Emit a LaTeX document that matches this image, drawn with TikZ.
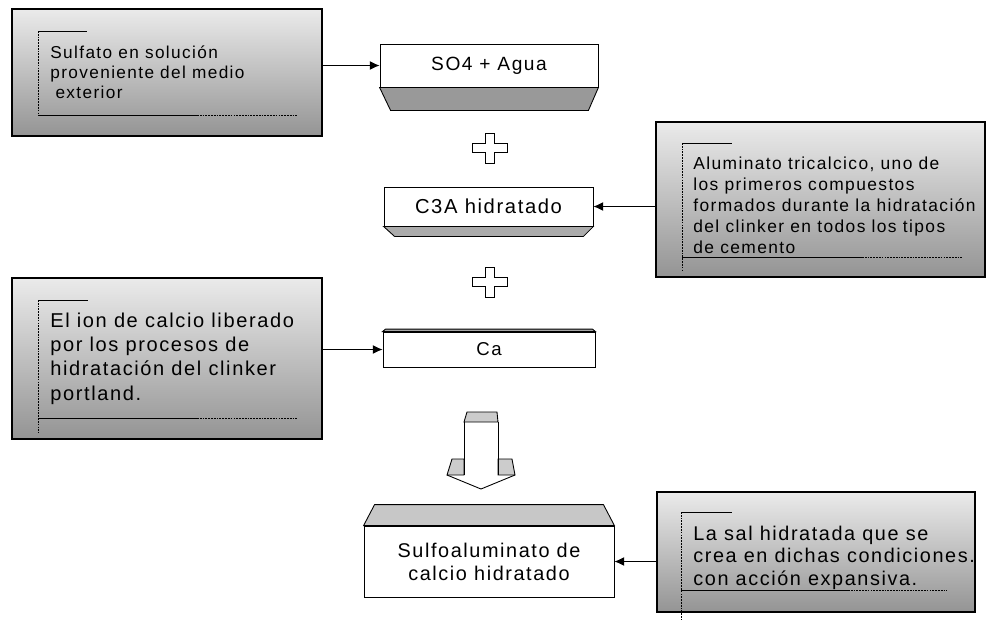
\documentclass[tikz,border=0pt]{standalone}
\usepackage{fontspec}
\setmainfont{Liberation Sans}[LetterSpace=8]
\usetikzlibrary{calc,arrows.meta}

\newcommand{\fsz}[2]{\fontsize{#1}{#2}\selectfont}

\tikzset{
    srcbox/.style={draw, line width=0.9pt, top color=black!8, bottom color=black!42, inner sep=0pt},
    prodbox/.style={draw, line width=0.5pt, fill=white, inner sep=0pt},
    srctext/.style={anchor=west, align=left, inner sep=0pt},
    bevel/.style={draw, line width=0.5pt},
    bracket/.style={line width=0.5pt},
    dashline/.style={line width=0.5pt, dash pattern=on 1pt off 0.6pt},
    link/.style={line width=0.5pt, -{Latex[length=5.5pt,width=5pt]}},
}

\begin{document}
\begin{tikzpicture}[x=0.02cm,y=-0.02cm]
        \useasboundingbox (0,0) rectangle (987,637);
        % cajas grises con las explicaciones
        \node[srcbox, minimum width=6.2cm, minimum height=2.54cm] (srcA) at (167,72.5) {};
        \node[srcbox, minimum width=6.58cm, minimum height=3.1cm] (srcB) at (820.5,199.5) {};
        \node[srcbox, minimum width=6.2cm, minimum height=3.22cm] (srcC) at (167,358.5) {};
        \node[srcbox, minimum width=6.36cm, minimum height=2.4cm] (srcD) at (816,552) {};

        % textos de las cajas grises
        \node[srctext, font=\fsz{9.8}{11.3}] (txtA) at (50,72)
            {Sulfato en solución\\proveniente del medio\\\hspace{0.3em}exterior};
        \node[srctext, font=\fsz{9.9}{11.9}] (txtB) at (693,205)
            {Aluminato tricalcico, uno de\\los primeros compuestos\\formados durante la hidratación\\del clinker en todos los tipos\\de cemento};
        \node[srctext, font=\fsz{11.4}{13.8}] (txtC) at (50,358.5)
            {El ion de calcio liberado\\por los procesos de\\hidratación del clinker\\portland.};
        \node[srctext, font=\fsz{11.3}{12.8}] (txtD) at (693,557.5)
            {La sal hidratada que se\\crea en dichas condiciones.\\con acción expansiva.};

        % corchetes dentro de las cajas grises
        \draw [dashline] (38,31) -- (38,115);
        \draw [bracket] (38,31) -- (87,31) (38,115) -- (197,115);
        \draw [dashline] (197,115) -- (297,115);
        \draw [dashline] (682,143) -- (682,272);
        \draw [bracket] (682,143) -- (732,143) (682,257) -- (862,257);
        \draw [dashline] (862,257) -- (963,257);
        \draw [dashline] (38,300) -- (38,433);
        \draw [bracket] (38,300) -- (88,300) (38,418) -- (197,418);
        \draw [dashline] (197,418) -- (297,418);
        \draw [dashline] (681,512) -- (681,620);
        \draw [bracket] (681,512) -- (732,512) (681,590) -- (848,590);
        \draw [dashline] (848,590) -- (947,590);

        % compuestos
        \node[prodbox, minimum width=4.36cm, minimum height=0.86cm, font=\fsz{10.9}{13}] (so4) at (489,65.5) {SO4 + Agua};
        \node[prodbox, minimum width=4.18cm, minimum height=0.78cm, font=\fsz{11.5}{13}] (c3a) at (488.5,206.5) {C3A hidratado};
        \node[prodbox, minimum width=4.24cm, minimum height=0.7cm, font=\fsz{10.6}{12}] (ca) at (489,349.5) {Ca};
        \node[prodbox, minimum width=5cm, minimum height=1.42cm, align=center, font=\fsz{11.3}{13}] (result) at (489,561.5)
            {Sulfoaluminato de\\calcio hidratado};

        % biseles de los compuestos
        \draw [bevel, fill=black!40] (so4.south west) -- (so4.south east) -- ($(so4.south east)+(-10,23)$) -- ($(so4.south west)+(11,23)$) -- cycle;
        \draw [bevel, fill=black!33] (c3a.south west) -- (c3a.south east) -- ($(c3a.south east)+(-10,10)$) -- ($(c3a.south west)+(11,10)$) -- cycle;
        \draw [bevel, fill=black!35] (ca.north west) -- (ca.north east) -- ($(ca.north east)+(-3,-2.5)$) -- ($(ca.north west)+(3,-2.5)$) -- cycle;
        \draw [bevel, fill=black!22] (result.north west) -- (result.north east) -- ($(result.north east)+(-11,-21)$) -- ($(result.north west)+(11,-21)$) -- cycle;

        % signos mas
        \foreach \y in {148,282}
            \draw [line width=0.5pt] (489.5,\y) ++(-4.5,-15) -- ++(9,0) -- ++(0,10.5) -- ++(13,0) -- ++(0,9) -- ++(-13,0)
                -- ++(0,10.5) -- ++(-9,0) -- ++(0,-10.5) -- ++(-13,0) -- ++(0,-9) -- ++(13,0) -- cycle;

        % flecha grande hacia abajo
        \draw [bevel, fill=black!20] (464,422) -- (467,412) -- (497,412) -- (498,422) -- cycle;
        \draw [bevel, fill=black!20] (464,459) -- (452,459) -- (447,475) -- (464,475) -- cycle;
        \draw [bevel, fill=black!20] (498,459) -- (512,459) -- (515,475) -- (498,475) -- cycle;
        \draw [line width=0.5pt] (464,422) -- (464,475) (498,422) -- (498,475);
        \draw [line width=0.5pt] (447,475) -- (481,489) -- (515,475);

        % conexiones
        \draw [link] (srcA.east |- so4.west) -- (so4.west);
        \draw [link] (srcB.west |- c3a.east) -- (c3a.east);
        \draw [link] (srcC.east |- ca.west) -- (ca.west);
        \draw [link] (srcD.west |- result.east) -- (result.east);
\end{tikzpicture}
\end{document}
